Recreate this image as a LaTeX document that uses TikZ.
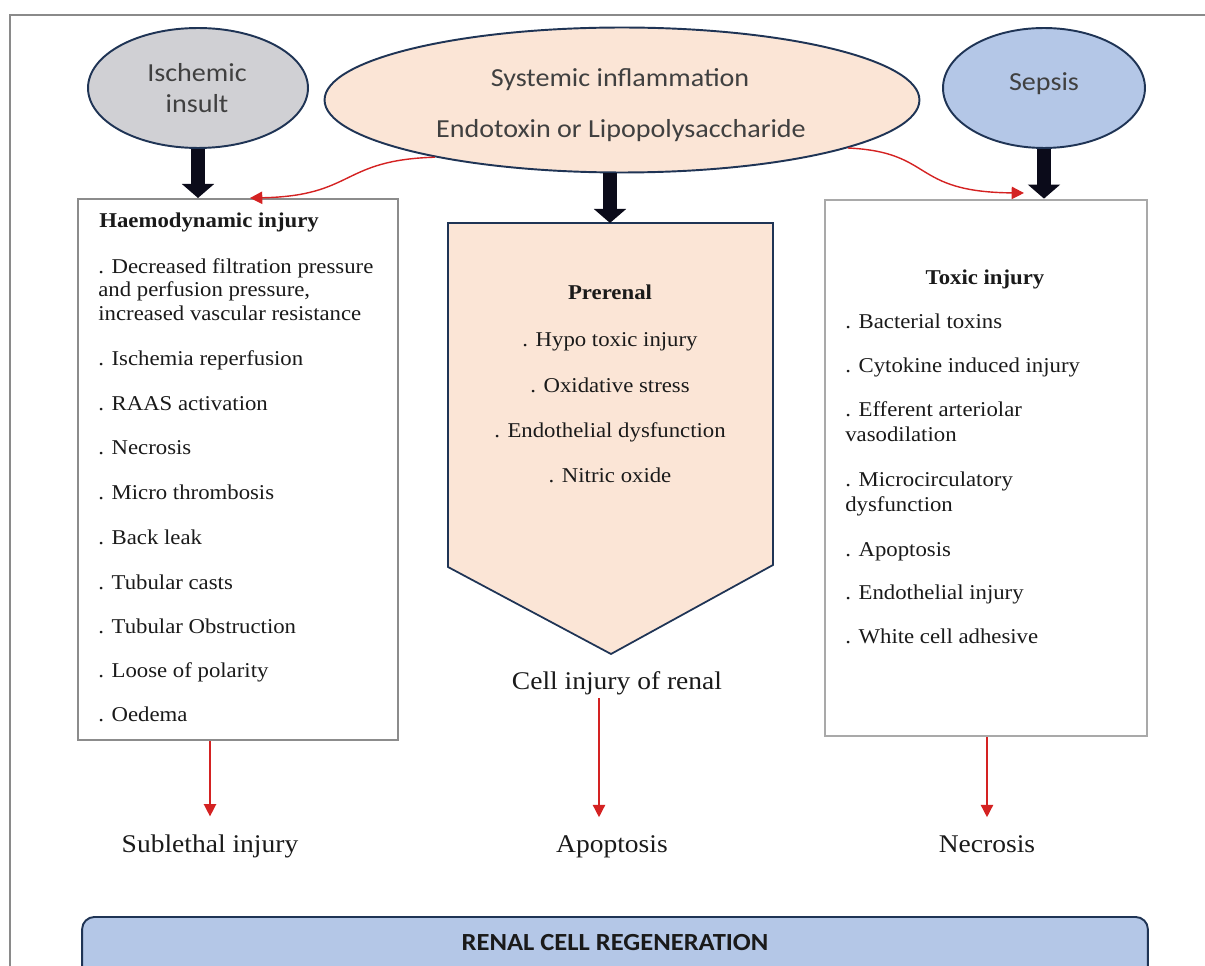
\documentclass[tikz,border=0pt]{standalone}
\usepackage{fontspec}
\setmainfont{Liberation Serif}[FakeStretch=1.08]
\newfontfamily\calfont{Carlito}[FakeStretch=1.08]
\usetikzlibrary{shapes.geometric,arrows.meta}
\definecolor{navyline}{HTML}{1F3455}
\definecolor{ischgray}{HTML}{D0D0D4}
\definecolor{peach}{HTML}{FBE5D6}
\definecolor{sepblue}{HTML}{B4C7E7}
\definecolor{boxgray}{HTML}{8C8C8C}
\definecolor{framegray}{HTML}{8A8A8A}
\definecolor{arrred}{HTML}{D42222}
\definecolor{arrblack}{HTML}{0B0B1A}
\definecolor{txtgray}{HTML}{404040}
\definecolor{txtdark}{HTML}{1A1A1A}
\tikzstyle{causeell}=[ellipse,draw=navyline,line width=1.1pt,inner sep=0pt]
\tikzstyle{causetext}=[inner sep=0pt,anchor=base,text=txtgray,
                       font=\calfont\fontsize{14.8}{18}\selectfont]
\tikzstyle{listbox}=[rectangle,draw=boxgray,line width=1.2pt,fill=white,inner sep=0pt]
\tikzstyle{itemtext}=[inner sep=0pt,text=txtdark,font=\fontsize{12}{14}\selectfont]
\tikzstyle{headtext}=[inner sep=0pt,anchor=base,text=txtdark,
                      font=\bfseries\fontsize{12}{14}\selectfont]
\tikzstyle{outtext}=[inner sep=0pt,anchor=base,text=txtdark,
                     font=\fontsize{14.5}{17}\selectfont]
\tikzstyle{fatarrow}=[draw=arrblack,line width=7.5pt,-{Triangle[length=8pt,width=18pt]}]
\tikzstyle{redarrow}=[draw=arrred,line width=0.8pt,-{Triangle[length=7pt,width=7pt]}]
\tikzstyle{regenbox}=[rectangle,rounded corners=7pt,draw=navyline,line width=1.1pt,
                      fill=sepblue]

\begin{document}
\begin{tikzpicture}[x=0.02cm,y=-0.02cm]
  \useasboundingbox (0,0) rectangle (1205,966);
  \clip (0,0) rectangle (1205,966);
  % page frame
  \draw[framegray,line width=0.8pt] (10,966) -- (10,15) -- (1205,15);

  % causes
  \node[causeell,fill=ischgray,minimum width=4.4cm,minimum height=2.4cm] (isch) at (198,88) {};
  \node[causeell,fill=peach,minimum width=11.9cm,minimum height=2.9cm] (sys) at (622,100) {};
  \node[causeell,fill=sepblue,minimum width=4.04cm,minimum height=2.4cm] (sep) at (1044,88) {};
  \node[causetext] (ischA) at (197,82) {Ischemic};
  \node[causetext] (ischB) at (197,113) {insult};
  \node[causetext] (sysA) at (620,87) {Systemic inflammation};
  \node[causetext] (sysB) at (621,138) {Endotoxin or Lipopolysaccharide};
  \node[causetext] (sepA) at (1044,91) {Sepsis};

  % injury boxes
  \node[listbox,minimum width=6.4cm,minimum height=10.82cm] (hbox) at (238,469.5) {};
  \node[listbox,minimum width=6.44cm,minimum height=10.72cm,draw=boxgray!75,line width=1.6pt] (tbox) at (986,468) {};
  \draw[draw=navyline,line width=1pt,fill=peach]
    (448,223) -- (773,223) -- (773,565) -- (611,654) -- (448,567) -- cycle;
  \coordinate (prtop) at (610,223);

  \node[headtext,anchor=base west] (hhead) at (99,228) {Haemodynamic injury};
  \foreach \n/\y/\t in {1/274/{. Decreased filtration pressure},
                        2/297/{and perfusion pressure,},
                        3/321/{increased vascular resistance},
                        4/366/{. Ischemia reperfusion},
                        5/411/{. RAAS activation},
                        6/455/{. Necrosis},
                        7/500/{. Micro thrombosis},
                        8/544/{. Back leak},
                        9/589/{. Tubular casts},
                        10/633/{. Tubular Obstruction},
                        11/677/{. Loose of polarity},
                        12/721/{. Oedema}}
    \node[itemtext,anchor=base west] (h\n) at (98,\y) {\t};

  \node[headtext] (phead) at (610,300) {Prerenal};
  \foreach \n/\y/\t in {1/347/{. Hypo toxic injury},
                        2/393/{. Oxidative stress},
                        3/438/{. Endothelial dysfunction},
                        4/483/{. Nitric oxide}}
    \node[itemtext,anchor=base] (p\n) at (610,\y) {\t};

  \node[headtext] (thead) at (985,285) {Toxic injury};
  \foreach \n/\y/\t in {1/329/{. Bacterial toxins},
                        2/373/{. Cytokine induced injury},
                        3/417/{. Efferent arteriolar},
                        4/442/{vasodilation},
                        5/487/{. Microcirculatory},
                        6/512/{dysfunction},
                        7/557/{. Apoptosis},
                        8/600/{. Endothelial injury},
                        9/643/{. White cell adhesive}}
    \node[itemtext,anchor=base west] (t\n) at (845,\y) {\t};

  % outcomes
  \node[outtext] (cell) at (617,689) {Cell injury of renal};
  \node[outtext] (subl) at (210,852) {Sublethal injury};
  \node[outtext] (apop) at (612,852) {Apoptosis};
  \node[outtext] (necr) at (987,852) {Necrosis};

  \node[regenbox,anchor=north,minimum width=21.32cm,minimum height=1.6cm] (regenbox) at (615,916) {};
  \node[text=txtdark,font=\calfont\bfseries\fontsize{14}{17}\selectfont] (regen) at (615,943) {RENAL CELL REGENERATION};

  % arrows
  \draw[fatarrow] (isch.south) -- (isch.south |- hbox.north);
  \draw[fatarrow] (sys.south -| prtop) -- (prtop);
  \draw[fatarrow] (sep.south) -- (sep.south |- tbox.north);

  \coordinate (hin) at (250,198);
  \coordinate (tin) at (1024,193);
  \draw[redarrow] (sys.197) .. controls (340,160) and (355,196) .. (hin);
  \draw[redarrow] (sys.-12) .. controls (935,152) and (910,192) .. (tin);

  \coordinate (cellout) at ([xshift=-0.36cm,yshift=-2pt]cell.south);
  \draw[redarrow,shorten >=10pt] (subl.north |- hbox.south) -- (subl.north);
  \draw[redarrow,shorten >=10pt] (cellout) -- (cellout |- apop.north);
  \draw[redarrow,shorten >=10pt] (necr.north |- tbox.south) -- (necr.north);
\end{tikzpicture}
\end{document}
